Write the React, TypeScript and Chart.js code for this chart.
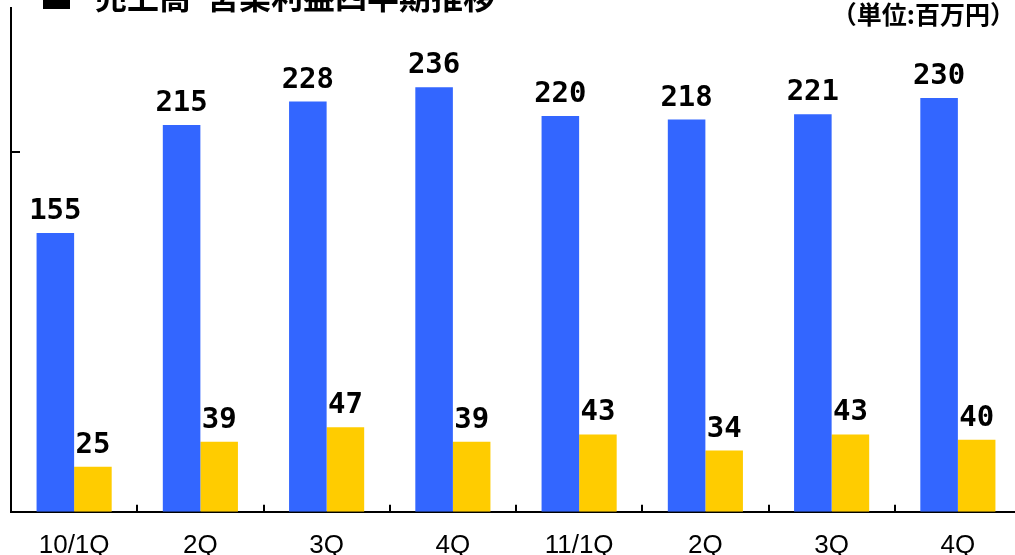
import React, { useEffect, useRef } from "react";
import { Chart, registerables } from "chart.js";

Chart.register(...registerables);

const categories = ["10/1Q", "2Q", "3Q", "4Q", "11/1Q", "2Q", "3Q", "4Q"];
const salesValues = [155, 215, 228, 236, 220, 218, 221, 230];
const profitValues = [25, 39, 47, 39, 43, 34, 43, 40];
const yTickValues = [200];
const titleText = "売上高･営業利益四半期推移";
const unitText = "（単位:百万円）";

const overlayPlugin = {
  id: "overlay",
  afterDatasetsDraw(chart: any) {
    const ctx = chart.ctx;
    ctx.save();
    ctx.font = 'bold 29px "DejaVu Sans Mono"';
    ctx.textAlign = "center";
    ctx.textBaseline = "alphabetic";
    ctx.fillStyle = "#000";
    chart.data.datasets.forEach((ds: any, i: number) => {
      chart.getDatasetMeta(i).data.forEach((bar: any, j: number) => {
        ctx.fillText(String(ds.data[j]), bar.x, bar.y - 14);
      });
    });
    ctx.restore();
  },
  afterDraw(chart: any) {
    const ctx = chart.ctx;
    const area = chart.chartArea;
    const xs = chart.scales.x;
    const ys = chart.scales.y;
    ctx.save();
    ctx.strokeStyle = "#000";
    ctx.lineWidth = 2;
    yTickValues.forEach((v) => {
      const y = Math.round(ys.getPixelForValue(v));
      ctx.beginPath();
      ctx.moveTo(area.left, y);
      ctx.lineTo(area.left + 9, y);
      ctx.stroke();
    });
    for (let i = 1; i < categories.length; i++) {
      const x = Math.round((xs.getPixelForValue(i - 1) + xs.getPixelForValue(i)) / 2);
      ctx.beginPath();
      ctx.moveTo(x, area.bottom);
      ctx.lineTo(x, area.bottom - 7);
      ctx.stroke();
    }
    ctx.fillStyle = "#000";
    ctx.fillRect(43, -18, 27, 27);
    ctx.font = 'bold 32px "Noto Sans CJK JP"';
    ctx.textAlign = "left";
    ctx.textBaseline = "middle";
    ctx.fillText(titleText, 95, -3);
    ctx.font = 'bold 25px "Noto Sans CJK JP"';
    ctx.textAlign = "right";
    ctx.fillText(unitText, 1015, 14);
    ctx.restore();
  },
};

export default function App() {
  const ref = useRef<HTMLCanvasElement | null>(null);
  useEffect(() => {
    document.documentElement.style.overflow = "hidden";
    document.body.style.overflow = "hidden";
    const chart = new Chart(ref.current as HTMLCanvasElement, {
      type: "bar",
      data: {
        labels: categories,
        datasets: [
          {
            label: "売上高",
            data: salesValues,
            backgroundColor: "#3366FF",
            barPercentage: 1,
            categoryPercentage: 0.595,
          },
          {
            label: "営業利益",
            data: profitValues,
            backgroundColor: "#FFCC00",
            barPercentage: 1,
            categoryPercentage: 0.595,
          },
        ],
      },
      options: {
        responsive: false,
        animation: false,
        devicePixelRatio: 1,
        layout: { padding: { left: 11, top: 8, right: 0, bottom: 0 } },
        plugins: {
          legend: { display: false },
          tooltip: { enabled: false },
          title: { display: false },
        },
        scales: {
          x: {
            grid: { display: false, drawTicks: false },
            border: { display: true, color: "#000", width: 2 },
            ticks: {
              color: "#000",
              padding: 18,
              maxRotation: 0,
              autoSkip: false,
              font: { family: '"Liberation Sans"', size: 26, weight: "normal" },
            },
          },
          y: {
            min: 0,
            max: 280,
            grid: { display: false, drawTicks: false },
            border: { display: true, color: "#000", width: 2 },
            ticks: { display: false },
          },
        },
      },
      plugins: [overlayPlugin],
    });
    return () => chart.destroy();
  }, []);
  return (
    <div style={{ position: "fixed", left: 0, top: 0, width: 1021, height: 579, background: "#fff" }}>
      <canvas ref={ref} width={1021} height={579} style={{ width: 1021, height: 579, display: "block" }} />
    </div>
  );
}
